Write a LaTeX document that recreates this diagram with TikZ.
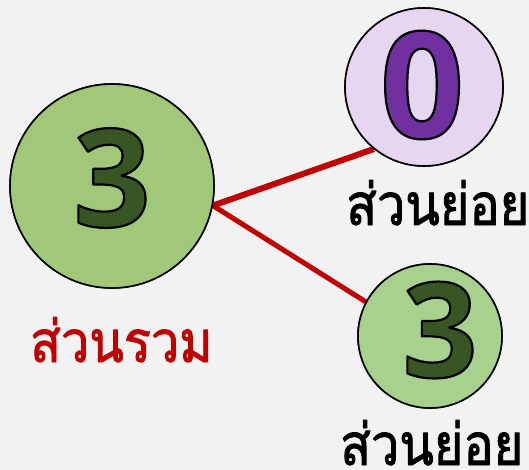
\documentclass[tikz,border=0pt]{standalone}
\usepackage{fontspec}
\setmainfont{Open Sans}
\newfontfamily\thaifont[Script=Thai, FakeStretch=0.87]{Loma}
\newfontfamily\digitfont{Open Sans}
\definecolor{bg}{HTML}{F2F2F2}
\definecolor{biggreen}{HTML}{A0C878}
\definecolor{smallgreen}{HTML}{A9D18E}
\definecolor{lilac}{HTML}{E6D6F2}
\definecolor{darkgreen}{HTML}{375623}
\definecolor{purpledigit}{HTML}{7030A0}
\definecolor{redline}{HTML}{C00000}
\newcommand{\outlined}[2]{\textcolor{#1}{\special{pdf:literal direct 2 Tr 2.2 w 1 j 0 0 0 RG}#2\special{pdf:literal direct 0 Tr}}}
\newcommand{\heavy}[2]{\textcolor{#1}{\special{pdf:literal direct 2 Tr 0.9 w 1 j}#2\special{pdf:literal direct 0 Tr}}}
\tikzset{
  ball/.style={circle, draw=black, line width=1.6pt, inner sep=0pt},
  digit/.style={inner sep=0pt, font=\digitfont\bfseries\fontsize{136}{136}\selectfont},
  thailabel/.style={inner sep=0pt, anchor=base west, font=\thaifont\fontsize{58}{58}\selectfont},
  joinline/.style={draw=redline, line cap=butt}
}
\begin{document}
\begin{tikzpicture}[x=1pt,y=-1pt]
\fill[bg] (0,0) rectangle (529,470);
\useasboundingbox (0,0) rectangle (529,470);
\path (112,186) coordinate (cbig);
\path (424,87) coordinate (cpurp);
\path (430,336) coordinate (csmall);
\node[ball, minimum size=204pt] (big) at (cbig) {};
\node[ball, minimum size=158pt] (purp) at (cpurp) {};
\node[ball, minimum size=144pt] (small) at (csmall) {};
% lines
\draw[joinline, line width=6pt] (big.-11) -- (purp.231);
\draw[joinline, line width=5pt] (big.-11) -- (small.152);
% circles on top of the lines
\node[ball, fill=biggreen, minimum size=204pt] (bigtop) at (cbig) {};
\node[ball, fill=lilac, minimum size=158pt] (purptop) at (cpurp) {};
\node[ball, fill=smallgreen, minimum size=144pt] (smalltop) at (csmall) {};
% digits
\node[digit] (d1) at (112,178) {\outlined{darkgreen}{3}};
\node[digit, font=\digitfont\bfseries\fontsize{148}{148}\selectfont] (d2) at (422,85) {\outlined{purpledigit}{0}};
\node[digit, font=\digitfont\bfseries\fontsize{132}{132}\selectfont] (d3) at (440,330) {\outlined{darkgreen}{3}};
% labels
\node[thailabel] (l1) at (30,362) {\heavy{redline}{ส่วนรวม}};
\node[thailabel] (l2) at (346,225) {\heavy{black}{ส่วนย่อย}};
\node[thailabel] (l3) at (340,465) {\heavy{black}{ส่วนย่อย}};
\end{tikzpicture}
\end{document}
